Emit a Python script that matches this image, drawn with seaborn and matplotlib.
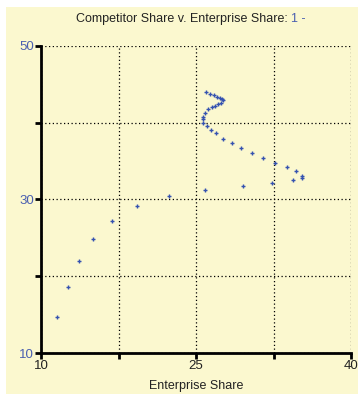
import matplotlib
matplotlib.use("Agg")
import matplotlib.pyplot as plt
import seaborn as sns
import pandas as pd
from matplotlib.patches import Rectangle

sns.set_style("white")
plt.rcParams["font.family"] = ["Liberation Sans", "DejaVu Sans"]

# values (time order of the trajectory)
enterprise_share = [
    11.5, 12.6, 13.7, 15.0, 16.9, 19.3, 22.4, 25.9, 29.5, 32.4, 34.4, 35.3, 35.3,
    34.65, 33.8, 32.6, 31.5, 30.4, 29.4, 28.5, 27.65, 26.95, 26.45, 26.05, 25.7,
    25.65, 25.65, 25.9, 26.2, 26.5, 26.85, 27.15, 27.4, 27.65, 27.5, 27.3, 27.0,
    26.7, 26.4, 26.0,
]
competitor_share = [
    14.7, 18.6, 22.0, 24.9, 27.2, 29.1, 30.5, 31.3, 31.8, 32.1, 32.5, 32.8, 33.1,
    33.7, 34.2, 34.8, 35.45, 36.0, 36.7, 37.4, 37.9, 38.6, 39.1, 39.6, 40.0,
    40.45, 40.8, 41.3, 41.75, 42.0, 42.2, 42.45, 42.6, 42.9, 43.05, 43.2, 43.4,
    43.6, 43.75, 43.95,
]
x_ticks = [10, 17.5, 25, 32.5, 40]
x_labels = ["10", "", "25", "", "40"]
y_ticks = [10, 20, 30, 40, 50]
y_labels = ["10", "", "30", "", "50"]

bg = "#fbf8cf"
blue = "#3552b0"
label_blue = "#4a5fb0"

df = pd.DataFrame({"Enterprise Share": enterprise_share,
                   "Competitor Share": competitor_share})

fig = plt.figure(figsize=(3.58, 3.94), dpi=100, facecolor="white")
fig.patches.append(Rectangle((6 / 358, 0), 1, 1 - 7 / 394, transform=fig.transFigure,
                             facecolor=bg, edgecolor="none", zorder=-1))
ax = fig.add_axes([41 / 358, 1 - 353 / 394, 310 / 358, 307 / 394])
ax.set_facecolor(bg)

sns.scatterplot(data=df, x="Enterprise Share", y="Competitor Share", ax=ax,
                marker="+", s=7, linewidth=1.0, color=blue, zorder=3, clip_on=False)

ax.set_xlim(10, 40)
ax.set_ylim(10, 50)
ax.set_xticks(x_ticks)
ax.set_xticklabels(x_labels, fontsize=9.5, color="#222222")
ax.set_yticks(y_ticks)
ax.set_yticklabels(y_labels, fontsize=9.5, color=label_blue)
ax.tick_params(axis="both", direction="out", length=4, width=2, color="black",
               pad=1, bottom=True, left=True)

ax.grid(True, linestyle=(0, (1, 2)), color="black", linewidth=0.9)
for s in ["top", "right"]:
    ax.spines[s].set_visible(False)
for s in ["left", "bottom"]:
    ax.spines[s].set_linewidth(2)
    ax.spines[s].set_color("black")

ax.set_xlabel("Enterprise Share", fontsize=9, color="#222222", labelpad=6)
ax.set_ylabel("")

split_x = 291 / 358
title_y = 1 - 19 / 394
fig.text(split_x, title_y, "Competitor Share v. Enterprise Share: ", ha="right",
         va="center", fontsize=9, color="#222222")
fig.text(split_x, title_y, "1 -", ha="left", va="center",
         fontsize=9, color=label_blue)

fig.savefig("out.png", dpi=100, facecolor=fig.get_facecolor())
